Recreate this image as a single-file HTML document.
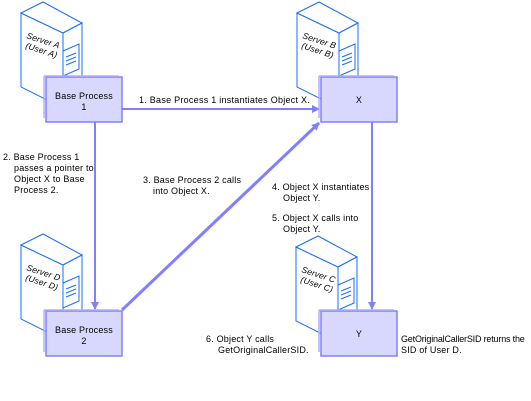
<!DOCTYPE html>
<html><head><meta charset="utf-8"><style>
body{margin:0;background:#fff}
svg{display:block}
text{font-family:"Liberation Sans",sans-serif;font-size:9px;fill:#000;letter-spacing:0.2px}
</style></head><body>
<svg width="531" height="401" viewBox="0 0 531 401" xmlns="http://www.w3.org/2000/svg">
<defs>
<g id="srv" fill="#fff" stroke="#1a6cff" stroke-width="1">
<polygon points="0,0 42,20 42,95 0,74"/>
<polygon points="0,0 22,-11 61,10 42,20"/>
<polygon points="42,20 61,10 61,75 42,85"/>
<polygon points="42,38 58,31 58,56 42,63"/>
<line x1="45" y1="44" x2="55" y2="40"/><line x1="45" y1="48" x2="55" y2="44"/><line x1="45" y1="52" x2="55" y2="48"/>
</g>
<marker id="ah" markerWidth="8" markerHeight="8" refX="7" refY="4" orient="auto" markerUnits="userSpaceOnUse"><path d="M0,0 L8,4 L0,8 Z" fill="#8080ff"/></marker>
</defs>
<use href="#srv" x="21" y="13"/>
<use href="#srv" x="297" y="13"/>
<use href="#srv" x="21" y="245"/>
<use href="#srv" x="296" y="247"/>
<g font-style="italic">
<text transform="translate(26,38) rotate(18)" style="font-size:8.5px">Server A</text><text transform="translate(25,48) rotate(18)" style="font-size:8.5px">(User A)</text>
<text transform="translate(302,38) rotate(18)" style="font-size:8.5px">Server B</text><text transform="translate(301,48) rotate(18)" style="font-size:8.5px">(User B)</text>
<text transform="translate(26,270) rotate(18)" style="font-size:8.5px">Server D</text><text transform="translate(25,280) rotate(18)" style="font-size:8.5px">(User D)</text>
<text transform="translate(301,272) rotate(18)" style="font-size:8.5px">Server C</text><text transform="translate(300,282) rotate(18)" style="font-size:8.5px">(User C)</text>
</g>
<g stroke="#8080ff" stroke-width="2" fill="none">
<line x1="122" y1="109" x2="319" y2="109" marker-end="url(#ah)"/>
<line x1="95" y1="122" x2="95" y2="309" marker-end="url(#ah)"/>
<line x1="372" y1="122" x2="372" y2="309" marker-end="url(#ah)"/>
<line x1="122" y1="310" x2="319" y2="123" stroke-width="3" marker-end="url(#ah)"/>
</g>
<g fill="#d8d8ff" stroke="#8080ff" stroke-width="1.5">
<rect x="46" y="77" width="76" height="45"/>
<rect x="321" y="77" width="76" height="45"/>
<rect x="46" y="311" width="76" height="45"/>
<rect x="321" y="311" width="76" height="45"/>
</g>
<g stroke="#b0b0ff" stroke-width="1.5">
<line x1="44" y1="76" x2="119" y2="76"/><line x1="44" y1="76" x2="44" y2="118"/>
<line x1="319" y1="76" x2="394" y2="76"/><line x1="319" y1="76" x2="319" y2="118"/>
<line x1="44" y1="310" x2="119" y2="310"/><line x1="44" y1="310" x2="44" y2="352"/>
<line x1="319" y1="310" x2="394" y2="310"/><line x1="319" y1="310" x2="319" y2="352"/>
</g>
<text x="84" y="99" text-anchor="middle">Base Process</text>
<text x="84" y="110" text-anchor="middle">1</text>
<text x="359" y="103" text-anchor="middle">X</text>
<text x="84" y="333" text-anchor="middle">Base Process</text>
<text x="84" y="344" text-anchor="middle">2</text>
<text x="359" y="337" text-anchor="middle">Y</text>
<text x="139" y="103" textLength="171">1. Base Process 1 instantiates Object X.</text>
<text x="3" y="160">2. Base Process 1</text>
<text x="14" y="171">passes a pointer to</text>
<text x="14" y="182">Object X to Base</text>
<text x="14" y="193">Process 2.</text>
<text x="143" y="183">3. Base Process 2 calls</text>
<text x="153" y="194">into Object X.</text>
<text x="272" y="190">4. Object X instantiates</text>
<text x="283" y="201">Object Y.</text>
<text x="272" y="221">5. Object X calls into</text>
<text x="283" y="232">Object Y.</text>
<text x="206" y="342">6. Object Y calls</text>
<text x="218" y="353">GetOriginalCallerSID.</text>
<text x="401" y="342" fill="#7a2cff" textLength="124">GetOriginalCallerSID returns the</text>
<text x="401" y="353" fill="#7a2cff">SID of User D.</text>
</svg>
</body></html>
